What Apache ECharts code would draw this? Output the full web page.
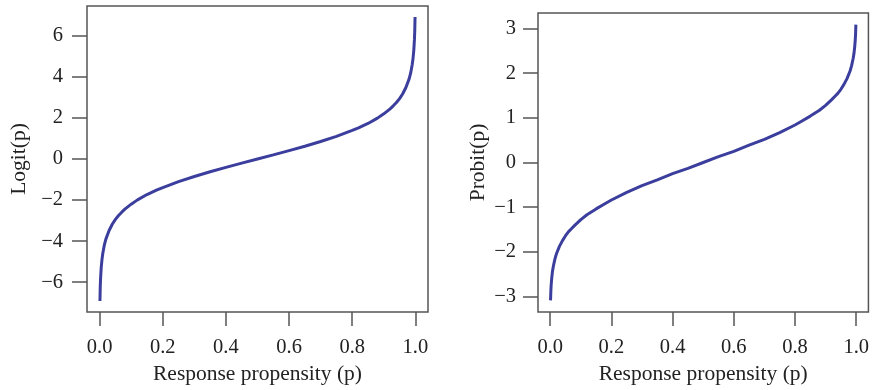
<!DOCTYPE html>
<html>
<head>
<meta charset="utf-8">
<script src="https://cdn.jsdelivr.net/npm/echarts@6/dist/echarts.min.js"></script>
<style>html,body{margin:0;padding:0;background:#fff;}#c{width:872px;height:390px;}</style>
</head>
<body>
<div id="c"></div>
<script>
// Response propensity values (x)
var propensity = [0.001, 0.002, 0.003, 0.005, 0.0075, 0.01, 0.015, 0.02, 0.03, 0.04, 0.05, 0.06, 0.07, 0.08, 0.1, 0.12, 0.15, 0.18, 0.2, 0.25, 0.3, 0.35, 0.4, 0.45, 0.5,
  0.55, 0.6, 0.65, 0.7, 0.75, 0.8, 0.82, 0.85, 0.88, 0.9, 0.92, 0.93, 0.94, 0.95, 0.96, 0.97, 0.98, 0.985, 0.99, 0.9925, 0.995, 0.997, 0.998, 0.999];
// Logit(p) values
var logitValues = [-6.91, -6.21, -5.81, -5.29, -4.89, -4.60, -4.18, -3.89, -3.48, -3.18, -2.94, -2.75, -2.59, -2.44, -2.20, -1.99, -1.73, -1.52, -1.39, -1.10, -0.85, -0.62, -0.41, -0.20, 0,
  0.20, 0.41, 0.62, 0.85, 1.10, 1.39, 1.52, 1.73, 1.99, 2.20, 2.44, 2.59, 2.75, 2.94, 3.18, 3.48, 3.89, 4.18, 4.60, 4.89, 5.29, 5.81, 6.21, 6.91];
// Probit(p) values
var probitValues = [-3.09, -2.88, -2.75, -2.58, -2.43, -2.33, -2.17, -2.05, -1.88, -1.75, -1.64, -1.55, -1.48, -1.41, -1.28, -1.17, -1.04, -0.92, -0.84, -0.67, -0.52, -0.39, -0.25, -0.13, 0,
  0.13, 0.25, 0.39, 0.52, 0.67, 0.84, 0.92, 1.04, 1.17, 1.28, 1.41, 1.48, 1.55, 1.64, 1.75, 1.88, 2.05, 2.17, 2.33, 2.43, 2.58, 2.75, 2.88, 3.09];
// Tick labels
var xTicks = [0, 0.2, 0.4, 0.6, 0.8, 1.0];
var logitTicks = [-6, -4, -2, 0, 2, 4, 6];
var probitTicks = [-3, -2, -1, 0, 1, 2, 3];
var xTitle = 'Response propensity (p)';
var yTitleLeft = 'Logit(p)';
var yTitleRight = 'Probit(p)';

var FONT = '"Liberation Serif", "DejaVu Serif", serif';
var TXT = '#222';
var AX = '#555';
var LINE = '#3b3e9c';

function pairs(xs, ys) { return xs.map(function (x, i) { return [x, ys[i]]; }); }

function xAxis(gi) {
  return {
    type: 'value', gridIndex: gi, min: -0.04, max: 1.04, position: 'bottom',
    name: xTitle, nameLocation: 'middle', nameGap: 49,
    nameTextStyle: { fontFamily: FONT, fontSize: 21.5, color: TXT },
    axisLine: { show: false, onZero: false },
    axisTick: { show: true, length: 14, customValues: xTicks, lineStyle: { color: AX, width: 1.5 } },
    axisLabel: { customValues: xTicks, margin: 25, fontFamily: FONT, fontSize: 20.5, color: TXT,
      formatter: function (v) { return v.toFixed(1); } },
    splitLine: { show: false }
  };
}
function yAxis(gi, lim, ticks, name, gap, margin) {
  return {
    type: 'value', gridIndex: gi, min: -lim, max: lim, position: 'left',
    name: name, nameLocation: 'middle', nameGap: gap, nameRotate: 90,
    nameTextStyle: { fontFamily: FONT, fontSize: 21.5, color: TXT },
    axisLine: { show: false, onZero: false },
    axisTick: { show: true, length: 15, customValues: ticks, lineStyle: { color: AX, width: 1.5 } },
    axisLabel: { customValues: ticks, margin: margin, fontFamily: FONT, fontSize: 20.5, color: TXT,
      formatter: function (v) { return v < 0 ? '\u2212' + Math.abs(v) : String(v); } },
    splitLine: { show: false }
  };
}

var chart = echarts.init(document.getElementById('c'));
chart.setOption({
  animation: false,
  backgroundColor: '#fff',
  grid: [
    { left: 87, top: 6, width: 341, height: 306, show: true, borderColor: AX, borderWidth: 1.5, backgroundColor: 'transparent' },
    { left: 538, top: 13, width: 335, height: 299, show: true, borderColor: AX, borderWidth: 1.5, backgroundColor: 'transparent' }
  ],
  xAxis: [xAxis(0), xAxis(1)],
  yAxis: [
    yAxis(0, 7.45, logitTicks, yTitleLeft, 57, 24),
    yAxis(1, 3.35, probitTicks, yTitleRight, 49, 22)
  ],
  series: [
    { type: 'line', xAxisIndex: 0, yAxisIndex: 0, data: pairs(propensity, logitValues), showSymbol: false,
      lineStyle: { color: LINE, width: 3 } },
    { type: 'line', xAxisIndex: 1, yAxisIndex: 1, data: pairs(propensity, probitValues), showSymbol: false,
      lineStyle: { color: LINE, width: 3 } }
  ]
});
</script>
</body>
</html>
